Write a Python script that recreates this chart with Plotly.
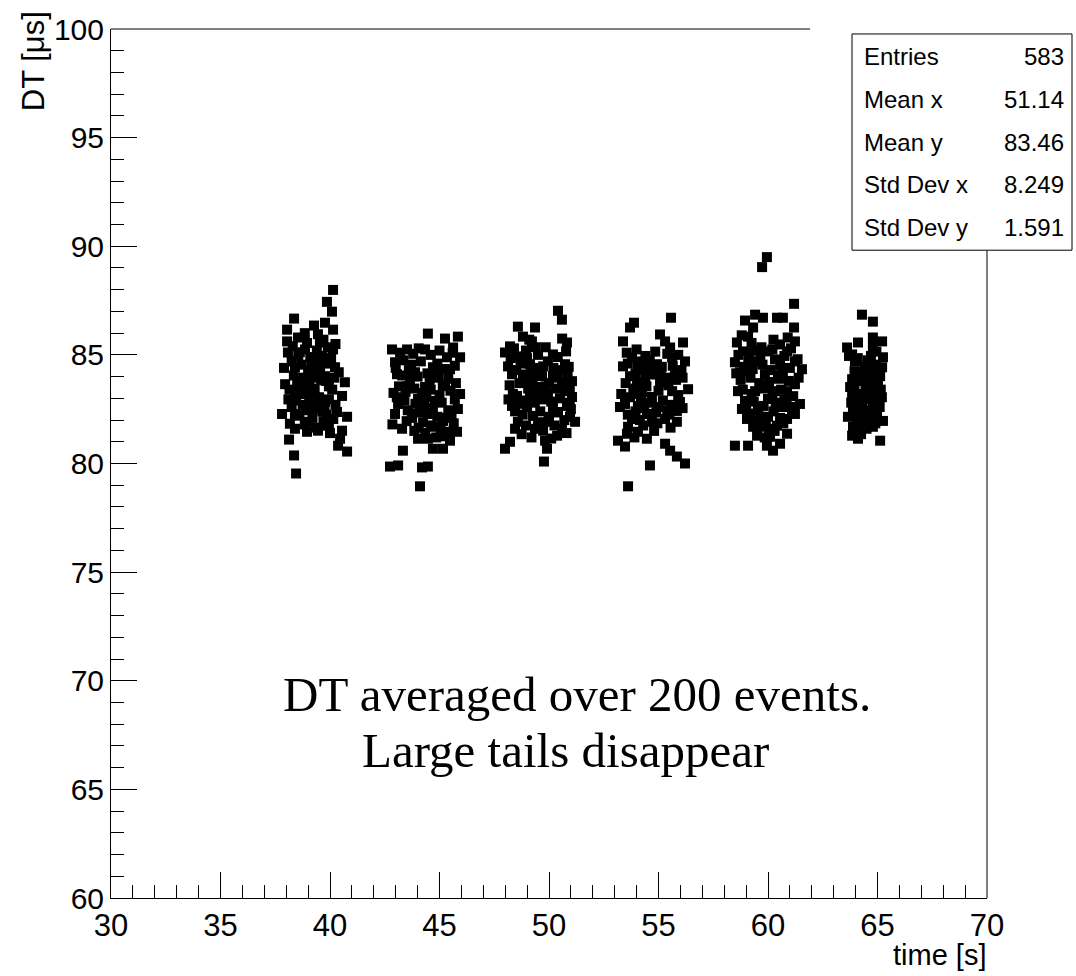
import plotly.graph_objects as go

# Per-burst samples: (time [s], DT averaged over 200 events [us])
burst_1 = [
    (40.14, 87.99), (39.86, 87.44), (40.09, 86.99), (38.36, 86.67), (39.27, 86.35),
    (39.77, 86.48), (40.14, 86.16), (38.04, 86.16), (38.04, 85.62), (38.54, 85.80),
    (39.54, 85.57), (40.14, 85.25), (38.08, 85.11), (38.86, 85.25), (40.23, 84.43),
    (38.40, 84.43), (39.32, 84.66), (37.95, 83.65), (40.68, 83.74), (38.54, 83.79),
    (39.77, 84.02), (38.40, 83.29), (40.55, 83.11), (39.18, 83.11), (39.77, 82.83),
    (38.86, 82.65), (37.81, 82.28), (38.40, 82.28), (40.32, 82.37), (40.78, 82.15),
    (38.17, 81.83), (38.99, 81.92), (39.86, 81.74), (39.45, 81.51), (38.95, 81.46),
    (40.55, 81.51), (40.46, 81.14), (40.37, 80.82), (40.78, 80.55), (38.13, 81.10),
    (38.36, 80.37), (38.45, 79.54),
    (38.30, 85.40), (38.62, 85.12), (38.95, 85.55), (39.10, 84.90), (39.40, 85.20),
    (39.65, 84.95), (39.90, 85.35), (38.25, 84.70), (38.70, 84.55), (39.00, 84.30),
    (39.25, 84.80), (39.55, 84.40), (39.85, 84.60), (40.05, 84.85), (38.35, 84.05),
    (38.80, 83.95), (39.05, 83.70), (39.35, 84.15), (39.60, 83.85), (39.95, 83.55),
    (40.20, 83.95), (38.15, 83.40), (38.60, 83.50), (38.90, 83.25), (39.30, 83.45),
    (39.50, 83.05), (39.80, 83.80), (40.10, 83.40), (38.45, 82.90), (38.75, 82.70),
    (39.10, 82.95), (39.40, 82.55), (39.65, 82.40), (39.95, 82.95), (40.25, 82.70),
    (38.25, 82.60), (38.60, 82.20), (38.95, 82.45), (39.20, 82.10), (39.55, 82.80),
    (39.85, 82.25), (40.15, 82.05), (38.85, 81.80), (39.35, 81.65), (39.70, 81.95),
    (38.40, 81.60), (40.00, 81.40), (39.15, 84.55), (38.50, 83.75), (39.70, 85.70),
    (38.85, 86.00), (39.45, 85.95), (40.25, 85.50), (40.40, 84.20), (37.90, 84.40),
    (38.10, 82.95), (39.95, 81.80), (38.70, 83.20), (39.20, 83.95), (39.50, 84.65),
    (38.55, 84.95), (39.75, 82.60), (39.05, 82.75), (38.95, 83.55),
]

burst_2 = [
    (44.47, 85.98), (45.25, 85.75), (45.84, 85.84), (45.62, 85.34), (42.83, 85.25),
    (43.52, 85.25), (44.34, 85.25), (42.97, 84.66), (45.34, 84.89), (45.94, 84.89),
    (45.48, 84.34), (43.06, 84.11), (43.88, 84.20), (44.70, 84.43), (43.52, 83.56),
    (44.34, 83.52), (45.25, 83.56), (45.94, 83.20), (43.11, 82.74), (44.02, 82.97),
    (44.79, 82.88), (45.84, 82.51), (42.97, 82.28), (43.74, 82.28), (44.47, 82.28),
    (45.16, 81.96), (44.79, 81.69), (43.29, 81.60), (45.48, 81.46), (45.80, 81.46),
    (44.47, 81.14), (44.02, 81.14), (45.48, 81.05), (44.70, 80.68), (45.16, 80.68),
    (43.33, 80.59), (42.74, 79.86), (43.11, 79.91), (44.20, 79.82), (44.47, 79.86),
    (44.11, 78.95),
    (43.20, 85.10), (43.80, 85.05), (44.05, 85.30), (44.60, 85.00), (45.00, 85.20),
    (45.60, 85.10), (43.35, 84.75), (43.70, 84.55), (44.15, 84.70), (44.45, 84.15),
    (44.90, 84.60), (45.20, 84.35), (45.70, 84.50), (43.00, 84.40), (43.30, 84.05),
    (43.65, 83.85), (44.00, 84.00), (44.55, 83.80), (44.95, 83.95), (45.40, 83.90),
    (45.75, 83.70), (43.15, 83.55), (43.45, 83.30), (43.85, 83.45), (44.20, 83.25),
    (44.60, 83.40), (45.00, 83.15), (45.50, 83.35), (43.05, 83.05), (43.40, 82.90),
    (43.90, 82.75), (44.30, 82.60), (44.70, 82.55), (45.10, 82.80), (45.40, 82.45),
    (45.70, 82.95), (43.55, 82.45), (44.10, 82.35), (44.90, 82.15), (45.30, 82.10),
    (43.50, 81.95), (44.25, 81.90), (44.60, 81.75), (45.05, 81.55), (45.65, 81.85),
    (43.85, 81.50), (44.35, 81.40), (45.25, 81.25), (44.85, 81.20), (42.90, 83.25),
    (42.85, 81.80), (43.60, 84.30), (44.40, 83.05), (45.15, 83.60), (43.75, 82.10),
    (44.80, 84.20), (45.55, 82.25), (44.05, 81.65),
]

burst_3 = [
    (50.41, 87.03), (50.59, 86.62), (48.58, 86.30), (49.36, 86.26), (48.81, 85.84),
    (49.22, 85.62), (50.82, 85.57), (48.22, 85.39), (47.99, 85.11), (48.58, 84.93),
    (50.18, 85.02), (50.78, 85.16), (48.13, 84.47), (49.13, 84.57), (49.73, 84.47),
    (50.73, 84.57), (48.31, 84.11), (48.81, 83.88), (49.68, 84.02), (50.18, 84.02),
    (51.05, 83.79), (49.45, 83.52), (50.73, 83.33), (48.54, 83.11), (49.13, 83.06),
    (49.95, 83.20), (51.05, 83.06), (48.31, 82.65), (49.00, 82.60), (50.18, 82.60),
    (50.82, 82.65), (49.27, 82.19), (50.41, 82.37), (50.96, 82.15), (48.58, 81.92),
    (49.95, 81.92), (51.19, 81.92), (48.45, 81.60), (49.36, 81.60), (50.59, 81.60),
    (49.73, 81.51), (50.37, 81.28), (48.22, 81.00), (49.82, 81.05), (47.99, 80.68),
    (49.91, 80.68), (49.77, 80.09),
    (48.40, 85.30), (48.95, 85.20), (49.50, 85.00), (49.85, 85.35), (50.40, 84.90),
    (48.25, 84.85), (48.70, 84.60), (49.00, 84.85), (49.40, 84.40), (49.95, 84.70),
    (50.45, 84.30), (50.90, 84.45), (48.50, 84.30), (48.95, 84.10), (49.25, 83.85),
    (49.60, 84.15), (50.00, 83.70), (50.40, 83.95), (50.85, 84.10), (48.20, 83.60),
    (48.65, 83.70), (49.05, 83.45), (49.50, 83.15), (49.85, 83.55), (50.30, 83.45),
    (50.60, 83.75), (48.35, 83.20), (48.85, 82.90), (49.35, 82.80), (49.70, 82.95),
    (50.10, 82.85), (50.50, 83.00), (50.95, 82.80), (48.45, 82.40), (48.80, 82.25),
    (49.60, 82.40), (50.00, 82.15), (50.70, 82.00), (48.95, 81.75), (49.50, 81.90),
    (50.25, 81.75), (50.80, 81.40), (48.75, 81.35), (49.20, 81.20), (50.10, 81.15),
    (51.00, 82.50), (50.95, 83.40), (49.10, 85.70), (48.15, 82.95), (50.60, 85.75),
    (49.20, 84.20), (49.75, 83.30), (50.20, 84.40), (48.60, 82.75), (50.35, 82.35),
    (49.40, 85.35), (48.90, 83.95),
]

burst_4 = [
    (55.57, 86.71), (53.88, 86.48), (53.70, 86.26), (53.38, 85.62), (55.07, 85.94),
    (55.30, 85.62), (56.12, 85.57), (55.53, 85.34), (53.79, 84.89), (55.62, 84.89),
    (56.21, 84.70), (53.38, 84.47), (54.06, 84.47), (54.93, 84.57), (53.70, 84.02),
    (54.61, 84.11), (55.98, 84.20), (54.02, 83.74), (55.07, 83.74), (56.35, 83.42),
    (54.25, 83.29), (55.62, 83.33), (54.70, 83.06), (55.98, 82.83), (53.47, 82.74),
    (53.24, 82.60), (54.06, 82.65), (54.98, 82.60), (55.84, 82.42), (54.47, 82.28),
    (53.79, 82.05), (55.30, 82.05), (54.70, 81.92), (55.84, 81.92), (53.61, 81.69),
    (54.06, 81.46), (53.56, 81.37), (54.47, 81.14), (53.15, 81.05), (53.47, 80.78),
    (55.30, 80.91), (55.53, 80.59), (55.84, 80.32), (56.21, 80.00), (54.61, 79.91),
    (53.61, 78.95),
    (53.55, 85.10), (54.00, 85.25), (54.40, 84.95), (54.85, 85.15), (55.40, 85.05),
    (55.90, 85.00), (53.60, 84.60), (54.25, 84.70), (54.70, 84.35), (55.15, 84.45),
    (55.65, 84.50), (56.05, 84.30), (53.95, 84.15), (54.40, 83.90), (54.90, 84.10),
    (55.35, 83.95), (55.80, 83.85), (53.50, 83.70), (53.85, 83.45), (54.45, 83.55),
    (55.00, 83.35), (55.45, 83.60), (55.90, 83.15), (53.70, 83.05), (54.20, 82.95),
    (54.55, 82.80), (55.20, 82.90), (55.60, 82.70), (56.10, 82.55), (53.95, 82.40),
    (54.35, 82.55), (54.90, 82.35), (55.50, 82.25), (53.60, 82.25), (54.15, 82.00),
    (54.95, 81.85), (55.55, 81.65), (54.30, 81.75), (53.90, 81.20), (54.80, 81.50),
    (53.30, 83.20), (56.10, 83.95), (54.60, 84.75), (55.10, 84.05), (54.10, 83.20),
    (55.40, 82.45), (54.70, 81.95), (55.75, 84.25), (54.35, 84.30),
]

burst_5 = [
    (59.95, 89.50), (59.73, 89.04), (61.19, 87.35), (58.95, 86.58), (59.41, 86.85),
    (59.77, 86.71), (60.41, 86.71), (60.68, 86.71), (61.19, 86.26), (59.32, 86.26),
    (58.58, 85.57), (59.09, 85.84), (61.23, 85.62), (60.55, 85.48), (58.86, 85.16),
    (60.00, 85.16), (60.87, 85.16), (58.49, 84.66), (59.41, 84.70), (60.32, 84.79),
    (61.23, 84.70), (58.72, 84.20), (59.86, 84.11), (60.68, 84.11), (61.55, 84.34),
    (59.09, 84.25), (61.23, 83.65), (58.63, 83.33), (59.41, 83.33), (60.32, 83.33),
    (60.87, 83.33), (58.95, 82.88), (60.00, 82.97), (61.46, 82.74), (58.81, 82.51),
    (59.54, 82.60), (60.64, 82.60), (61.23, 82.28), (59.04, 82.05), (60.00, 82.15),
    (60.87, 82.05), (59.32, 81.69), (59.77, 81.69), (60.41, 81.74), (59.50, 81.28),
    (60.09, 81.23), (60.87, 81.37), (58.49, 80.82), (59.09, 80.82), (59.95, 80.82),
    (60.55, 80.91), (60.23, 80.59),
    (58.80, 85.90), (59.25, 85.55), (59.70, 85.35), (60.25, 85.70), (60.90, 85.80),
    (58.65, 85.00), (59.15, 85.10), (59.65, 84.90), (60.20, 85.25), (60.75, 84.95),
    (61.05, 85.30), (58.90, 84.45), (59.30, 84.35), (59.75, 84.55), (60.10, 84.30),
    (60.55, 84.50), (61.00, 84.40), (58.75, 83.85), (59.20, 83.95), (59.60, 83.70),
    (60.05, 83.75), (60.50, 83.90), (60.95, 83.80), (61.40, 83.95), (58.85, 83.40),
    (59.25, 83.20), (59.75, 83.45), (60.20, 83.10), (60.60, 83.40), (61.15, 83.10),
    (59.00, 82.70), (59.35, 82.85), (59.80, 82.65), (60.35, 82.80), (60.75, 82.95),
    (61.05, 82.60), (59.20, 82.30), (59.65, 82.15), (60.25, 82.40), (60.55, 82.10),
    (61.10, 82.35), (59.45, 81.95), (59.90, 81.80), (60.70, 81.85), (60.30, 81.50),
    (59.85, 81.20), (61.35, 84.80), (58.55, 84.15), (59.50, 85.20), (60.45, 84.05),
    (59.95, 83.50), (59.10, 84.70), (60.85, 83.00), (59.55, 82.45), (60.05, 81.60),
]

burst_6 = [
    (64.29, 86.85), (64.79, 86.53), (64.11, 85.57), (64.79, 85.80), (65.21, 85.62),
    (63.61, 85.34), (64.79, 85.39), (63.84, 85.02), (63.97, 84.70), (65.25, 84.89),
    (65.21, 84.43), (64.57, 84.34), (63.84, 83.88), (64.34, 84.02), (65.12, 84.02),
    (63.75, 83.52), (64.52, 83.56), (65.02, 83.56), (63.84, 83.06), (64.29, 83.20),
    (64.98, 83.20), (64.20, 82.74), (64.79, 82.74), (63.88, 82.42), (64.52, 82.42),
    (64.98, 82.28), (64.06, 82.05), (64.66, 81.96), (65.25, 81.96), (63.88, 81.69),
    (64.34, 81.83), (64.79, 81.69), (63.84, 81.28), (64.11, 81.14), (65.12, 81.05),
    (64.10, 84.85), (64.55, 84.75), (64.95, 84.55), (63.95, 84.25), (64.40, 84.45),
    (64.80, 84.15), (64.15, 83.80), (64.60, 83.85), (65.00, 83.80), (63.90, 83.35),
    (64.45, 83.35), (64.75, 83.50), (65.15, 83.40), (64.05, 82.95), (64.55, 82.95),
    (64.95, 82.90), (63.80, 82.80), (64.30, 82.55), (64.75, 82.45), (65.10, 82.60),
    (64.15, 82.20), (64.45, 82.15), (64.90, 81.85), (64.05, 81.55), (64.50, 81.60),
    (64.25, 81.35), (63.70, 84.95), (64.95, 85.15), (65.20, 83.05), (63.65, 82.15),
    (64.35, 84.20), (64.65, 83.15), (64.20, 82.90), (64.85, 82.05), (64.40, 81.95),
    (64.70, 84.95), (63.95, 83.60),
]

bursts = [burst_1, burst_2, burst_3, burst_4, burst_5, burst_6]

# Statistics panel content
stat_names = ["Entries", "Mean x", "Mean y", "Std Dev x", "Std Dev y"]
stat_values = ["583", "51.14", "83.46", "8.249", "1.591"]

x_range = [30, 70]
y_range = [60, 100]

W, H = 1076, 976
ML, MR, MT, MB = 111, 89, 22, 78
PW = W - ML - MR
PH = H - MT - MB


def px(xpix):
    return (xpix - ML) / PW


def py(ypix):
    return (H - MB - ypix) / PH


t_all = [p[0] for b in bursts for p in b]
dt_all = [p[1] for b in bursts for p in b]

fig = go.Figure()
fig.add_trace(go.Scatter(
    x=t_all, y=dt_all, mode="markers",
    marker=dict(symbol="square", size=10, color="black", line=dict(width=0)),
    showlegend=False, hoverinfo="x+y",
))

sans = "Liberation Sans, Arial, Helvetica, sans-serif"
serif = "Liberation Serif, Times New Roman, serif"

axis_common = dict(
    showgrid=False, zeroline=False, showline=True, linecolor="black", linewidth=1,
    ticks="inside", ticklen=26, tickwidth=1, tickcolor="black", dtick=5,
    minor=dict(ticks="inside", ticklen=13, tickwidth=1, tickcolor="black", dtick=1),
)

fig.update_layout(
    width=W, height=H,
    margin=dict(l=ML, r=MR, t=MT, b=MB, pad=0),
    paper_bgcolor="white", plot_bgcolor="white",
    xaxis=dict(range=x_range, tick0=30, tickfont=dict(family=sans, size=31, color="black"),
               **axis_common),
    yaxis=dict(range=y_range, tick0=60, tickfont=dict(family=sans, size=30, color="black"),
               **axis_common),
)

# Partial top edge and right edge of the frame
fig.add_shape(type="line", xref="paper", yref="paper", x0=0, x1=px(810), y0=1, y1=1,
              line=dict(color="black", width=1))
fig.add_shape(type="line", xref="paper", yref="paper", x0=1, x1=1, y0=0, y1=py(245),
              line=dict(color="black", width=1))

# Statistics box
fig.add_shape(type="rect", xref="paper", yref="paper",
              x0=px(852), x1=px(1072), y0=py(245), y1=py(27),
              line=dict(color="black", width=1), fillcolor="white", layer="above")
row_y = [50, 93, 136, 179, 222]
for name, val, ry in zip(stat_names, stat_values, row_y):
    fig.add_annotation(xref="paper", yref="paper", x=px(862), y=py(ry), text=name,
                       showarrow=False, xanchor="left", yanchor="middle",
                       font=dict(family=sans, size=24, color="black"))
    fig.add_annotation(xref="paper", yref="paper", x=px(1066), y=py(ry), text=val,
                       showarrow=False, xanchor="right", yanchor="middle",
                       font=dict(family=sans, size=24, color="black"))

# Axis titles
fig.add_annotation(xref="paper", yref="paper", x=px(988), y=py(955), text="time [s]",
                   showarrow=False, xanchor="right", yanchor="middle",
                   font=dict(family=sans, size=29, color="black"))
fig.add_annotation(xref="paper", yref="paper", x=px(33), y=py(2), text="DT [μs]",
                   textangle=-90, showarrow=False, xanchor="center", yanchor="top",
                   font=dict(family=sans, size=31, color="black"))

# Caption inside the frame
fig.add_annotation(xref="paper", yref="paper", x=px(577), y=py(693),
                   text="DT averaged over 200 events.", showarrow=False,
                   xanchor="center", yanchor="middle",
                   font=dict(family=serif, size=49, color="black"))
fig.add_annotation(xref="paper", yref="paper", x=px(565), y=py(749),
                   text="Large tails disappear", showarrow=False,
                   xanchor="center", yanchor="middle",
                   font=dict(family=serif, size=49, color="black"))

fig.write_html("out.html")
